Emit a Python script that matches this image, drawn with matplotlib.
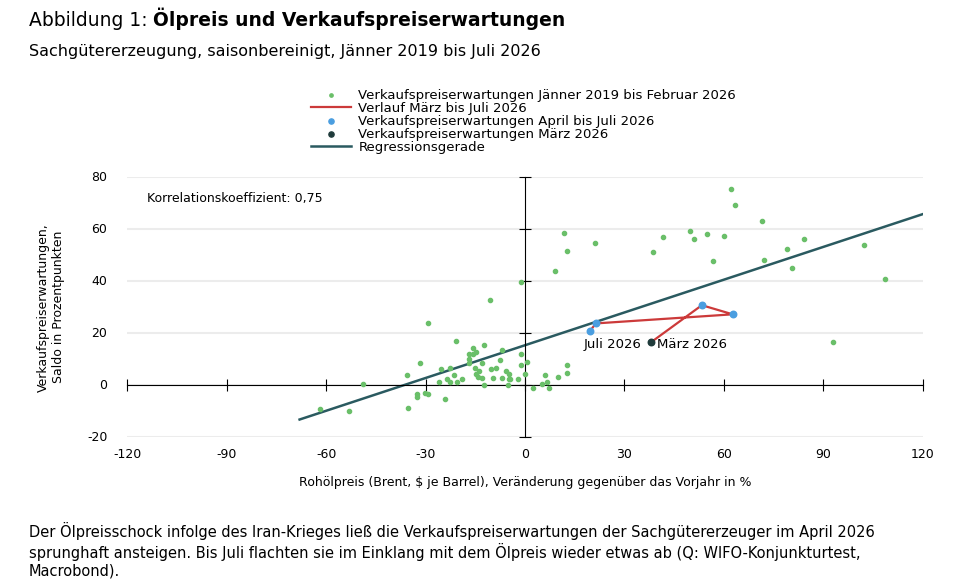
import numpy as np
import matplotlib.pyplot as plt

plt.rcParams['font.family'] = ['DejaVu Sans']

# Verkaufspreiserwartungen Jänner 2019 bis Februar 2026 (Ölpreis, Saldo)
hist_x = [-1.3, -10.5, -29.2, -20.8, -12.4, -15.7, -14.8, -16.9, -15.8, -7.0, -1.2, -16.9,
          -7.5, 0.6, -31.7, -16.9, -13.0, -15.0, -1.2, -25.3, -22.6, -13.9, -10.2, -8.7,
          -5.7, -4.8, 0.0, -14.8, -35.6, -21.4, -14.2, -13.0, -9.6, -7.0, -4.8, -4.6,
          -2.1, -23.5, -19.0, -25.9, -22.6, -20.5, -12.4, -5.1, -49.0, 6.0, 10.0, 5.1,
          6.6, 2.4, 7.2, -32.5, -32.5, -30.1, -29.2, -24.0, -35.3, -61.8, -53.1, 12.7,
          12.7, 62.1, 63.3, 71.5, 11.8, 49.7, 51.0, 54.9, 60.0, 41.6, 21.1, 12.7, 38.6,
          84.1, 79.0, 102.2, 72.1, 56.7, 80.5, 9.0, 108.8, 92.9]
hist_y = [39.7, 32.7, 23.8, 16.9, 15.4, 14.2, 13.0, 11.9, 11.9, 13.5, 11.9, 10.0,
          9.6, 8.8, 8.5, 8.5, 8.5, 6.5, 7.7, 6.1, 6.5, 5.4, 6.1, 6.5,
          5.4, 4.2, 4.2, 4.2, 3.8, 3.8, 3.1, 2.7, 2.7, 2.7, 2.3, 2.3,
          2.3, 2.3, 2.3, 1.2, 1.2, 1.2, 0.0, 0.0, 0.4, 3.8, 3.1, 0.4,
          1.2, -1.2, -1.2, -3.5, -4.6, -3.1, -3.5, -5.4, -8.8, -9.2, -10.0, 7.7,
          4.6, 75.4, 69.2, 63.1, 58.5, 59.2, 56.2, 58.1, 57.3, 56.9, 54.6, 51.5, 51.2,
          56.2, 52.3, 53.8, 48.1, 47.7, 45.0, 43.8, 40.8, 16.5]

# März bis Juli 2026
path_x = [38.0, 53.4, 62.7, 21.4, 19.6]
path_y = [16.5, 30.8, 27.3, 23.8, 20.8]

reg_x = [-68, 120]
reg_slope, reg_icpt = 0.42, 15.4

fig = plt.figure(figsize=(9.57, 5.87), dpi=100)
ax = fig.add_axes([0.133, 0.255, 0.831, 0.443])

for y in [-20, 0, 20, 40, 60, 80]:
    ax.axhline(y, color='#ececec', lw=1.5, zorder=0)

ax.scatter(hist_x, hist_y, s=9, color='#6abf69', zorder=3,
           label='Verkaufspreiserwartungen Jänner 2019 bis Februar 2026')
ax.plot(path_x, path_y, color='#cc3a3a', lw=1.6, zorder=4, label='Verlauf März bis Juli 2026')
ax.scatter(path_x[1:], path_y[1:], s=22, color='#4a9ee0', zorder=5,
           label='Verkaufspreiserwartungen April bis Juli 2026')
ax.scatter(path_x[:1], path_y[:1], s=22, color='#1f3b3b', zorder=5,
           label='Verkaufspreiserwartungen März 2026')
rx = np.array(reg_x)
ax.plot(rx, reg_slope * rx + reg_icpt, color='#2a5a60', lw=1.8, zorder=2, label='Regressionsgerade')

ax.text(path_x[-1] - 2, path_y[-1] - 2.5, 'Juli 2026', fontsize=9.5, va='top', ha='left')
ax.text(path_x[0] + 2, path_y[0] + 1.5, 'März 2026', fontsize=9.5, va='top', ha='left')
ax.text(-114, 72, 'Korrelationskoeffizient: 0,75', fontsize=9, va='center')

ax.set_xlim(-120, 120)
ax.set_ylim(-20, 80)
ax.set_xticks(range(-120, 121, 30))
ax.set_yticks(range(-20, 81, 20))
ax.spines['left'].set_position(('data', 0))
ax.spines['bottom'].set_position(('data', 0))
ax.spines['right'].set_visible(False)
ax.spines['top'].set_visible(False)
ax.tick_params(direction='inout', length=8, labelleft=False, labelbottom=False)
for t in range(-120, 121, 30):
    ax.text(t, -24, str(t), ha='center', va='top', fontsize=9)
for t in range(-20, 81, 20):
    ax.text(-126, t, str(t), ha='right', va='center', fontsize=9)

ax.text(0, -35, 'Rohölpreis (Brent, $ je Barrel), Veränderung gegenüber das Vorjahr in %',
        ha='center', va='top', fontsize=9)
ax.text(-143, 30, 'Verkaufspreiserwartungen,\nSaldo in Prozentpunkten', rotation=90,
        ha='center', va='center', fontsize=9)

fig.legend(loc='upper left', bbox_to_anchor=(0.318, 0.86), frameon=False, fontsize=9.5,
           handlelength=3.0, handletextpad=0.6, labelspacing=0.0, borderpad=0, markerscale=0.8)

t1 = fig.text(0.03, 0.955, 'Abbildung 1: ', fontsize=13.5)
fig.canvas.draw()
bb = t1.get_window_extent().transformed(fig.transFigure.inverted())
fig.text(bb.x1, 0.955, 'Ölpreis und Verkaufspreiserwartungen', fontsize=13.5, weight='bold')
fig.text(0.03, 0.905, 'Sachgütererzeugung, saisonbereinigt, Jänner 2019 bis Juli 2026', fontsize=11.5)
fig.text(0.03, 0.02, 'Der Ölpreisschock infolge des Iran-Krieges ließ die Verkaufspreiserwartungen der '
         'Sachgütererzeuger im April 2026\nsprunghaft ansteigen. Bis Juli flachten sie im Einklang mit dem '
         'Ölpreis wieder etwas ab (Q: WIFO-Konjunkturtest,\nMacrobond).', fontsize=10.5, linespacing=1.2)

fig.savefig('out.png')
